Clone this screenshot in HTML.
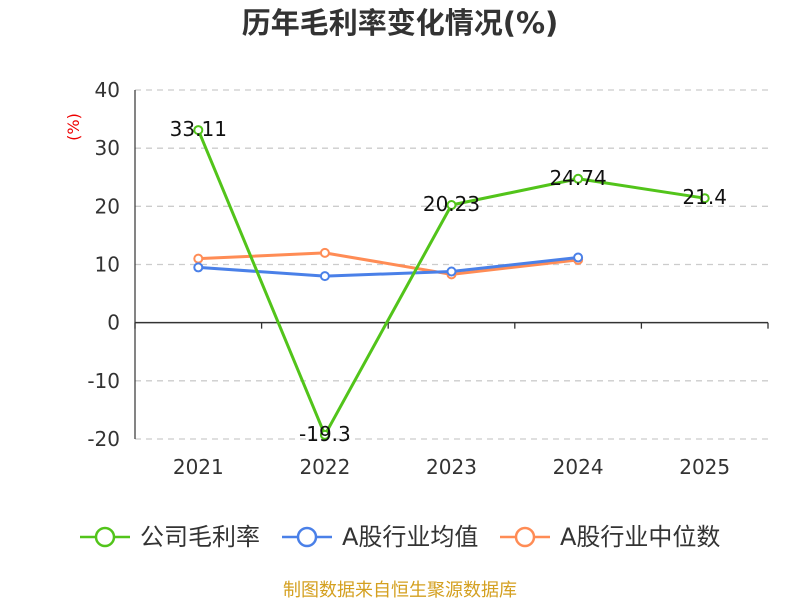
<!DOCTYPE html>
<html><head><meta charset="utf-8"><style>
body{margin:0;background:#fff;}
svg text{font-family:"DejaVu Sans","Noto Sans CJK SC",sans-serif;}
</style></head><body>
<svg width="800" height="600" xmlns="http://www.w3.org/2000/svg">
<text x="400" y="33" text-anchor="middle" font-size="29" font-weight="bold" fill="#333">历年毛利率变化情况(%)</text>
<text x="79" y="127" transform="rotate(-90 79 127)" text-anchor="middle" font-size="16" fill="#e00">(%)</text>
<g id="grid"></g><g id="axes"></g><g id="series"></g>
<g id="legend"></g>
<text x="400" y="596" text-anchor="middle" font-size="18" fill="#d4a020">制图数据来自恒生聚源数据库</text>
</svg>
<script>
const categories=["2021","2022","2023","2024","2025"];
const companyMargin=[33.11,-19.3,20.23,24.74,21.4];
const industryAvg=[9.5,8.0,8.8,11.2];
const industryMedian=[11.0,12.0,8.3,10.8];
const yTicks=[40,30,20,10,0,-10,-20];
const seriesNames=["公司毛利率","A股行业均值","A股行业中位数"];
const colors=["#52c41a","#4a80e8","#ff8c55"];
const NS="http://www.w3.org/2000/svg";
const x0=135,x1=768,y0v=-20,y1v=40,py0=439,py1=90;
const bw=(x1-x0)/categories.length;
const X=i=>x0+bw*(i+0.5);
const Y=v=>py0+(v-y0v)*(py1-py0)/(y1v-y0v);
function mk(t,a,p){const e=document.createElementNS(NS,t);for(const k in a)e.setAttribute(k,a[k]);p.appendChild(e);return e;}
const grid=document.getElementById('grid'),axes=document.getElementById('axes'),ser=document.getElementById('series'),leg=document.getElementById('legend');
yTicks.forEach(v=>{
 if(v!==0){const l=mk('line',{x1:x0,x2:x1,y1:Y(v),y2:Y(v),stroke:'#ccc','stroke-dasharray':'6,5','stroke-width':1.3},grid);
 
 }
 const t=mk('text',{x:x0-15,y:Y(v)+7,'text-anchor':'end','font-size':20,fill:'#333'},axes);t.textContent=v;
 
 
});
const ya=mk('line',{x1:x0,x2:x0,y1:py1,y2:py0,stroke:'#333','stroke-width':1.2},axes);


const xa=mk('line',{x1:x0,x2:x1,y1:Y(0),y2:Y(0),stroke:'#333','stroke-width':1.5},axes);


for(let i=0;i<=categories.length;i++){mk('line',{x1:x0+bw*i,x2:x0+bw*i,y1:Y(0),y2:Y(0)+6,stroke:'#333','stroke-width':1.3},axes);}
categories.forEach((c,i)=>{const t=mk('text',{x:X(i),y:474,'text-anchor':'middle','font-size':20,fill:'#333'},axes);t.textContent=c;
 
 });
function line(data,color,name,labels){
 const g=mk('g',{},ser);
 
 
 mk('polyline',{points:data.map((v,i)=>X(i)+','+Y(v)).join(' '),fill:'none',stroke:color,'stroke-width':3,'stroke-linejoin':'round'},g);
 data.forEach((v,i)=>{const c=mk('circle',{cx:X(i),cy:Y(v),r:4,fill:'#fff',stroke:color,'stroke-width':2},g);
  
  
  if(labels){const t=mk('text',{x:X(i),y:Y(v)+6,'text-anchor':'middle','font-size':20,fill:'#111'},g);t.textContent=v;
  
  }});
}
line(industryMedian,colors[2],'series-industry-median',false);
line(industryAvg,colors[1],'series-industry-avg',false);
line(companyMargin,colors[0],'series-company-margin',true);
const lx=[80,282,500];
seriesNames.forEach((n,i)=>{
 const g=mk('g',{},leg);
 
 
 mk('line',{x1:lx[i],x2:lx[i]+50,y1:537,y2:537,stroke:colors[i],'stroke-width':2.5},g);
 mk('circle',{cx:lx[i]+25,cy:537,r:9,fill:'#fff',stroke:colors[i],'stroke-width':2.5},g);
 const t=mk('text',{x:lx[i]+60,y:545,'font-size':24,fill:'#333'},g);t.textContent=n;
});
</script>
</body></html>
